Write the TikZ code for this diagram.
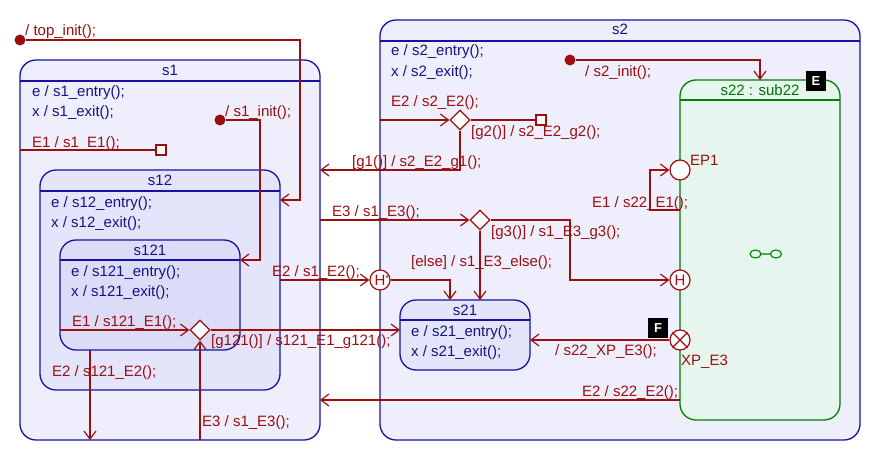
\documentclass[tikz,border=0pt]{standalone}
\usepackage{fontspec}
\setmainfont{Liberation Sans}
\usetikzlibrary{arrows.meta,shapes.geometric}

\definecolor{stborder}{RGB}{20,20,160}
\definecolor{sttext}{RGB}{20,20,130}
\definecolor{fillA}{RGB}{238,238,252}
\definecolor{fillB}{RGB}{228,228,250}
\definecolor{fillC}{RGB}{220,220,248}
\definecolor{subfill}{RGB}{230,245,237}
\definecolor{subborder}{RGB}{0,128,0}
\definecolor{subtext}{RGB}{0,115,0}
\definecolor{trcol}{RGB}{155,15,15}

\begin{document}
\begin{tikzpicture}[x=1pt,y=-1pt,
  every node/.style={font=\fontsize{15}{18}\selectfont},
  state/.style={draw=stborder, fill=fillA, line width=1.3pt, rounded corners=16pt,
    inner sep=0pt, outer sep=0pt, anchor=north west},
  substate/.style={state, draw=subborder, fill=subfill},
  hline/.style={draw=stborder, line width=1.3pt},
  subhline/.style={draw=subborder, line width=1.3pt},
  title/.style={text=sttext, anchor=base, inner sep=0pt},
  act/.style={text=sttext, anchor=base west, inner sep=0pt},
  lbl/.style={text=trcol, anchor=base west, inner sep=0pt},
  trans/.style={draw=trcol, line width=1.2pt},
  arr/.style={trans, -{Straight Barb[length=8pt,width=12pt,line width=1.2pt]}},
  initdot/.style={circle, fill=trcol, minimum size=11pt, inner sep=0pt},
  pseudo/.style={circle, draw=trcol, fill=white, line width=1.2pt, minimum size=20pt,
    inner sep=0pt, text=trcol},
  junction/.style={rectangle, draw=trcol, fill=white, line width=1.2pt, minimum size=10pt,
    inner sep=0pt},
  choice/.style={diamond, draw=trcol, fill=white, line width=1.2pt, minimum width=20pt,
    minimum height=20pt, inner sep=0pt},
  badge/.style={rectangle, fill=black, text=white, minimum size=20pt, inner sep=0pt,
    font=\fontsize{13}{13}\selectfont\bfseries},
  histfont/.style={font=\fontsize{15}{15}\selectfont},
]
\fill[white] (0,0) rectangle (880,460);
\useasboundingbox (0,0) rectangle (880,460);

% ---------------- states ----------------
\node[state, minimum width=300pt, minimum height=380pt] (s1) at (20,60) {};
\draw[hline] ([yshift=-21pt]s1.north west) -- ([yshift=-21pt]s1.north east);
\node[title] (s1t) at ([yshift=-15pt]s1.north) {s1};

\node[state, fill=fillB, minimum width=240pt, minimum height=220pt] (s12) at (40,170) {};
\draw[hline] ([yshift=-21pt]s12.north west) -- ([yshift=-21pt]s12.north east);
\node[title] (s12t) at ([yshift=-15pt]s12.north) {s12};

\node[state, fill=fillC, minimum width=180pt, minimum height=110pt] (s121) at (60,240) {};
\draw[hline] ([yshift=-20pt]s121.north west) -- ([yshift=-20pt]s121.north east);
\node[title] (s121t) at ([yshift=-15pt]s121.north) {s121};

\node[state, minimum width=480pt, minimum height=420pt] (s2) at (380,20) {};
\draw[hline] ([yshift=-21pt]s2.north west) -- ([yshift=-21pt]s2.north east);
\node[title] (s2t) at ([yshift=-15pt]s2.north) {s2};

\node[state, fill=fillB, minimum width=130pt, minimum height=70pt] (s21) at (400,300) {};
\draw[hline] ([yshift=-20pt]s21.north west) -- ([yshift=-20pt]s21.north east);
\node[title] (s21t) at ([yshift=-15pt]s21.north) {s21};

\node[substate, minimum width=160pt, minimum height=340pt] (s22) at (680,80) {};
\draw[subhline] ([yshift=-20pt]s22.north west) -- ([yshift=-20pt]s22.north east);
\node[title, text=subtext] (s22t) at ([yshift=-15pt]s22.north) {s22 : sub22};

% submachine icon
\draw[subborder, line width=1.1pt] (755.5,254) ellipse [x radius=5.5pt, y radius=4pt]
  (776,254) ellipse [x radius=5.5pt, y radius=4pt] (761,254) -- (770.5,254);

% ---------------- internal activities ----------------
\node[act] (a1) at (32,96) {e / s1\_entry();};
\node[act] (a2) at (32,116) {x / s1\_exit();};
\node[act] (a3) at (51,207) {e / s12\_entry();};
\node[act] (a4) at (51,227) {x / s12\_exit();};
\node[act] (a5) at (71,276) {e / s121\_entry();};
\node[act] (a6) at (71,296) {x / s121\_exit();};
\node[act] (a7) at (391,56) {e / s2\_entry();};
\node[act] (a8) at (391,76) {x / s2\_exit();};
\node[act] (a9) at (411,336) {e / s21\_entry();};
\node[act] (a10) at (411,356) {x / s21\_exit();};

% ---------------- pseudostates ----------------
\node[initdot] (init0) at (20,40) {};
\node[initdot] (init1) at (220,120) {};
\node[initdot] (init2) at (570,60) {};
\node[junction] (sq1) at (161,150) {};
\node[junction] (sq2) at (541,120) {};
\node[choice] (d121) at (200,330) {};
\node[choice] (dE2) at (460,120) {};
\node[choice] (dE3) at (480,220) {};
\node[pseudo, histfont] (hstar) at (380,280) {H\rlap{\raisebox{4pt}{\fontsize{9}{9}\selectfont *}}};
\node[pseudo, histfont] (hist) at (680,280) {H};
\node[pseudo] (ep1) at (680,170) {};
\node[pseudo] (xp) at (680,340) {};
\draw[trans] (xp.north west) -- (xp.south east) (xp.north east) -- (xp.south west);

% ---------------- transitions ----------------
\draw[arr] (init0) -- (300,40) |- (s12.east |- 0,200);
\draw[arr] (init1) -- (260,120) |- (s121.east |- 0,260);
\draw[trans] (s1.west |- 0,150) -- (sq1);
\draw[arr] (s121.west |- d121) -- (d121);
\draw[arr] (d121) -- (s21.west |- d121);
\draw[arr] (d121 |- s1.south) -- (d121);
\draw[arr] (90,0 |- s121.south) -- (90,0 |- s1.south);
\draw[arr] (s12.east |- hstar) -- (hstar);
\draw[arr] (hstar) -| ([xshift=-15pt]s21.north);
\draw[arr] (s1.east |- dE3) -- (dE3);
\draw[arr] (dE3) -- ++(90,0) |- (hist);
\draw[arr] (dE3) -- (dE3 |- s21.north);
\draw[arr] (s2.west |- dE2) -- (dE2);
\draw[trans] (dE2) -- (sq2);
\draw[arr] (dE2.south) |- (s1.east |- 0,170);
\draw[arr] (init2) -| (s22.north);
\draw[arr] (s22.west |- 0,210) -- ++(-30,0) |- (ep1);
\draw[arr] (xp) -- (s21.east |- xp);
\draw[arr] (s22.west |- 0,400) -- (s1.east |- 0,400);

% ---------------- transition labels ----------------
\node[lbl] (l1) at (25,36) {/ top\_init();};
\node[lbl] (l2) at (225,116) {/ s1\_init();};
\node[lbl] (l3) at (32,147) {E1 / s1\_E1();};
\node[lbl] (l4) at (72,326) {E1 / s121\_E1();};
\node[lbl] (l5) at (211,345) {[g121()] / s121\_E1\_g121();};
\node[lbl] (l6) at (52,376) {E2 / s121\_E2();};
\node[lbl] (l7) at (202,426) {E3 / s1\_E3();};
\node[lbl] (l8) at (272,276) {E2 / s1\_E2();};
\node[lbl] (l9) at (332,216) {E3 / s1\_E3();};
\node[lbl] (l10) at (491,236) {[g3()] / s1\_E3\_g3();};
\node[lbl] (l11) at (411,266) {[else] / s1\_E3\_else();};
\node[lbl] (l12) at (391,106) {E2 / s2\_E2();};
\node[lbl] (l13) at (471,136) {[g2()] / s2\_E2\_g2();};
\node[lbl] (l14) at (352,166) {[g1()] / s2\_E2\_g1();};
\node[lbl] (l15) at (585,76) {/ s2\_init();};
\node[lbl] (l16) at (690,165) {EP1};
\node[lbl] (l17) at (592,207) {E1 / s22\_E1();};
\node[lbl] (l18) at (555,355) {/ s22\_XP\_E3();};
\node[lbl] (l19) at (681,365) {XP\_E3};
\node[lbl] (l20) at (582,396) {E2 / s22\_E2();};

% ---------------- badges ----------------
\node[badge] (bE) at (816,81) {E};
\node[badge] (bF) at (658,328) {F};
\end{tikzpicture}
\end{document}
